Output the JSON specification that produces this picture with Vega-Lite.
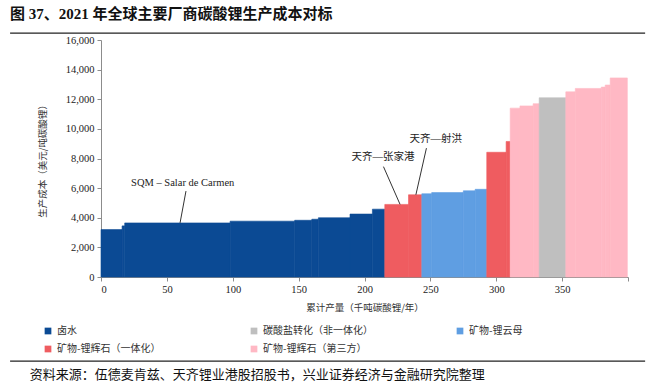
{
  "$schema": "https://vega.github.io/schema/vega-lite/v6.json",
  "autosize": {"type": "none"},
  "width": 527,
  "height": 237,
  "padding": {"left": 101, "top": 40, "right": 28, "bottom": 113},
  "background": "white",
  "title": {
    "text": "图 37、2021 年全球主要厂商碳酸锂生产成本对标",
    "anchor": "start",
    "frame": "group",
    "dx": -91,
    "offset": 10,
    "font": "Liberation Serif, Noto Sans CJK SC",
    "fontSize": 15,
    "fontWeight": "bold",
    "color": "#111111"
  },
  "config": {
    "view": {"stroke": null},
    "font": "Liberation Serif, Noto Sans CJK SC",
    "axis": {
      "labelFont": "Liberation Serif",
      "labelFontSize": 10.5,
      "labelColor": "#222222",
      "titleFont": "Noto Sans CJK SC",
      "titleFontSize": 9.5,
      "titleFontWeight": "normal",
      "titleColor": "#333333",
      "domainColor": "#8c8c8c",
      "tickColor": "#8c8c8c",
      "tickSize": 4,
      "grid": false
    },
    "legend": {
      "orient": "none",
      "legendX": -58,
      "legendY": 286,
      "direction": "horizontal",
      "columns": 3,
      "gridAlign": "all",
      "columnPadding": 82,
      "rowPadding": 8,
      "symbolType": "square",
      "symbolSize": 45,
      "symbolStrokeWidth": 0,
      "labelFont": "Noto Sans CJK SC",
      "labelFontSize": 10,
      "labelColor": "#333333",
      "title": null
    }
  },
  "datasets": {
    "bars": [
      {"x0": 0, "x1": 16, "cost": 3200, "type": "卤水"},
      {"x0": 16, "x1": 18, "cost": 3450, "type": "卤水"},
      {"x0": 18, "x1": 98, "cost": 3650, "type": "卤水"},
      {"x0": 98, "x1": 147, "cost": 3770, "type": "卤水"},
      {"x0": 147, "x1": 160, "cost": 3830, "type": "卤水"},
      {"x0": 160, "x1": 165, "cost": 3900, "type": "卤水"},
      {"x0": 165, "x1": 189, "cost": 4000, "type": "卤水"},
      {"x0": 189, "x1": 206, "cost": 4250, "type": "卤水"},
      {"x0": 206, "x1": 215.4, "cost": 4580, "type": "卤水"},
      {"x0": 215.4, "x1": 233.4, "cost": 4900, "type": "矿物-锂辉石（一体化）"},
      {"x0": 233.4, "x1": 243.5, "cost": 5550, "type": "矿物-锂辉石（一体化）"},
      {"x0": 243.5, "x1": 251, "cost": 5620, "type": "矿物-锂云母"},
      {"x0": 251, "x1": 275, "cost": 5700, "type": "矿物-锂云母"},
      {"x0": 275, "x1": 284, "cost": 5820, "type": "矿物-锂云母"},
      {"x0": 284, "x1": 292.8, "cost": 5920, "type": "矿物-锂云母"},
      {"x0": 292.8, "x1": 307.5, "cost": 8420, "type": "矿物-锂辉石（一体化）"},
      {"x0": 307.5, "x1": 310.6, "cost": 9150, "type": "矿物-锂辉石（一体化）"},
      {"x0": 310.6, "x1": 318, "cost": 11400, "type": "矿物-锂辉石（第三方）"},
      {"x0": 318, "x1": 328, "cost": 11550, "type": "矿物-锂辉石（第三方）"},
      {"x0": 328, "x1": 332.6, "cost": 11700, "type": "矿物-锂辉石（第三方）"},
      {"x0": 332.6, "x1": 352.8, "cost": 12100, "type": "碳酸盐转化（非一体化）"},
      {"x0": 352.8, "x1": 360, "cost": 12500, "type": "矿物-锂辉石（第三方）"},
      {"x0": 360, "x1": 379.7, "cost": 12730, "type": "矿物-锂辉石（第三方）"},
      {"x0": 379.7, "x1": 382.7, "cost": 12820, "type": "矿物-锂辉石（第三方）"},
      {"x0": 382.7, "x1": 386.5, "cost": 12960, "type": "矿物-锂辉石（第三方）"},
      {"x0": 386.5, "x1": 399.5, "cost": 13440, "type": "矿物-锂辉石（第三方）"}
    ],
    "leaders": [
      {"x": 64.5, "y": 5800, "x2": 60, "y2": 3650},
      {"x": 214.4, "y": 7450, "x2": 227, "y2": 4900},
      {"x": 247, "y": 8700, "x2": 239, "y2": 5550}
    ],
    "labels": [
      {"x": 62, "y": 6350, "label": "SQM – Salar de Carmen"},
      {"x": 214, "y": 8100, "label": "天齐—张家港"},
      {"x": 254, "y": 9350, "label": "天齐—射洪"}
    ],
    "one": [{}]
  },
  "encoding": {
    "x": {
      "type": "quantitative",
      "scale": {"domain": [0, 400], "nice": false},
      "axis": {
        "values": [0, 50, 100, 150, 200, 250, 300, 350, 400],
        "labelExpr": "datum.value == 400 ? '' : format(datum.value, 'd')",
        "title": "累计产量（千吨碳酸锂/年）",
        "titlePadding": 8,
        "labelPadding": 3
      }
    },
    "y": {
      "type": "quantitative",
      "scale": {"domain": [0, 16000], "nice": false},
      "axis": {
        "values": [0, 2000, 4000, 6000, 8000, 10000, 12000, 14000, 16000],
        "labelExpr": "format(datum.value, ',')",
        "title": "生产成本（美元/吨碳酸锂）",
        "titlePadding": 18,
        "labelPadding": 3
      }
    }
  },
  "layer": [
    {
      "data": {"name": "bars"},
      "mark": {"type": "rect", "strokeWidth": 0.6},
      "encoding": {
        "x": {"field": "x0", "type": "quantitative"},
        "x2": {"field": "x1"},
        "y": {"field": "cost", "type": "quantitative"},
        "y2": {"datum": 0},
        "color": {
          "field": "type", "type": "nominal",
          "scale": {
            "domain": ["卤水", "碳酸盐转化（非一体化）", "矿物-锂云母", "矿物-锂辉石（一体化）", "矿物-锂辉石（第三方）"],
            "range": ["#0B4A94", "#BFBFBF", "#5F9EE2", "#EF5C60", "#FFB8C4"]
          },
          "legend": {"values": ["卤水", "碳酸盐转化（非一体化）", "矿物-锂云母", "矿物-锂辉石（一体化）", "矿物-锂辉石（第三方）"]}
        },
        "stroke": {
          "field": "type", "type": "nominal",
          "scale": {
            "domain": ["卤水", "碳酸盐转化（非一体化）", "矿物-锂云母", "矿物-锂辉石（一体化）", "矿物-锂辉石（第三方）"],
            "range": ["#0B4A94", "#BFBFBF", "#5F9EE2", "#EF5C60", "#FFB8C4"]
          },
          "legend": null
        }
      }
    },
    {
      "data": {"name": "leaders"},
      "mark": {"type": "rule", "color": "#333333", "strokeWidth": 1},
      "encoding": {
        "x": {"field": "x", "type": "quantitative"},
        "y": {"field": "y", "type": "quantitative"},
        "x2": {"field": "x2"},
        "y2": {"field": "y2"}
      }
    },
    {
      "data": {"name": "labels"},
      "mark": {"type": "text", "font": "Liberation Serif, Noto Sans CJK SC", "fontSize": 10.5, "color": "#222222", "align": "center", "baseline": "middle"},
      "encoding": {
        "x": {"field": "x", "type": "quantitative"},
        "y": {"field": "y", "type": "quantitative"},
        "text": {"field": "label"}
      }
    },
    {
      "data": {"name": "one"},
      "mark": {"type": "rule", "color": "#222222", "strokeWidth": 1.2, "clip": false},
      "encoding": {
        "x": {"datum": -69, "type": "quantitative"},
        "x2": {"datum": 413},
        "y": {"datum": 16470, "type": "quantitative"}
      }
    },
    {
      "data": {"name": "one"},
      "mark": {"type": "rule", "color": "#222222", "strokeWidth": 1.2, "clip": false},
      "encoding": {
        "x": {"datum": -69, "type": "quantitative"},
        "x2": {"datum": 413},
        "y": {"datum": -5680, "type": "quantitative"}
      }
    },
    {
      "data": {"name": "one"},
      "mark": {"type": "text", "font": "Noto Sans CJK SC", "fontSize": 13, "color": "#111111", "align": "left", "baseline": "middle", "clip": false},
      "encoding": {
        "x": {"datum": -54, "type": "quantitative"},
        "y": {"datum": -6620, "type": "quantitative"},
        "text": {"value": "资料来源：伍德麦肯兹、天齐锂业港股招股书，兴业证券经济与金融研究院整理"}
      }
    }
  ]
}
